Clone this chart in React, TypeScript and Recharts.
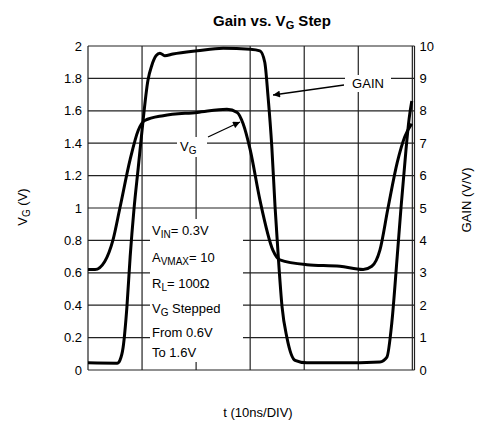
import React from 'react';
import {
    LineChart, Line, XAxis, YAxis, CartesianGrid, ReferenceLine
} from 'recharts';

// time in ns (10ns per division)
const vgTime = [0, 1.3, 3.1, 4.6, 5.9, 7.8, 9.3, 10.5, 13.9, 20.2, 25.7, 27.6, 28.7, 30.0, 31.8, 34.2, 35.5, 40.5, 46.6, 50.9, 52.5, 54.0, 55.5, 57.2, 58.6, 59.9];
const vgValues = [0.62, 0.62, 0.67, 0.80, 1.0, 1.30, 1.48, 1.54, 1.57, 1.59, 1.61, 1.59, 1.52, 1.36, 1.05, 0.74, 0.68, 0.65, 0.64, 0.62, 0.64, 0.74, 1.0, 1.28, 1.44, 1.52];

const gainTime = [0, 5.4, 5.9, 6.5, 7.2, 7.8, 8.5, 9.3, 10.0, 11.1, 11.8, 12.6, 13.3, 14.2, 15.7, 20.2, 25.0, 30.0, 31.8, 32.7, 33.3, 34.0, 34.6, 35.2, 35.9, 36.8, 38.3, 40.5, 46.6, 54.0, 55.3, 56.2, 57.2, 57.9, 58.8, 59.4, 59.9];
const gainValues = [0.22, 0.21, 0.3, 0.7, 1.95, 3.5, 4.95, 6.25, 7.4, 8.95, 9.4, 9.7, 9.78, 9.7, 9.75, 9.85, 9.93, 9.9, 9.85, 9.5, 8.45, 6.9, 5.05, 3.5, 1.95, 1.0, 0.3, 0.22, 0.22, 0.25, 0.4, 1.45, 3.5, 5.0, 6.75, 7.75, 8.3];

const xTicks = [0, 10, 20, 30, 40, 50, 60];
const frameEdge = 60.4;
const vgTicks = [0, 0.2, 0.4, 0.6, 0.8, 1, 1.2, 1.4, 1.6, 1.8, 2];
const gainTicks = [0, 1, 2, 3, 4, 5, 6, 7, 8, 9, 10];

const noteLines = [
    { main: 'V', sub: 'IN', rest: '= 0.3V' },
    { main: 'A', sub: 'VMAX', rest: '= 10' },
    { main: 'R', sub: 'L', rest: '= 100Ω' },
    { main: 'V', sub: 'G', rest: ' Stepped' },
    { main: 'From 0.6V', sub: '', rest: '' },
    { main: 'To 1.6V', sub: '', rest: '' },
];
const noteBaselines = [235, 262, 288, 313, 337, 357];

const FONT = '"Liberation Sans", Arial, Helvetica, sans-serif';
const GRID = '#222';

const vgData = vgTime.map((t, i) => ({ t, vg: vgValues[i] }));
const gainData = gainTime.map((t, i) => ({ t, gain: gainValues[i] }));

const Overlay = () => (
    <svg width={479} height={421} style={{ position: 'absolute', left: 0, top: 0, pointerEvents: 'none' }}
        fontFamily={FONT}>
        <defs>
            <marker id="arr" viewBox="0 0 10 10" refX="10" refY="5" markerWidth="9" markerHeight="7" orient="auto-start-reverse" markerUnits="userSpaceOnUse">
                <path d="M0,0 L10,5 L0,10 z" fill="#000" />
            </marker>
        </defs>
        <text x={272} y={26} textAnchor="middle" fontSize={15} fontWeight="bold">
            Gain vs. V<tspan fontSize={11} dy={3}>G</tspan><tspan dy={-3}> Step</tspan>
        </text>
        {/* GAIN annotation */}
        <rect x={345} y={75} width={46} height={17} fill="#fff" />
        <text x={368} y={88} textAnchor="middle" fontSize={13}>GAIN</text>
        <line x1={344} y1={85} x2={273} y2={95} stroke="#000" strokeWidth={1.3} markerEnd="url(#arr)" />
        {/* VG annotation */}
        <rect x={177} y={137} width={30} height={20} fill="#fff" />
        <text x={180} y={151} fontSize={13}>V<tspan fontSize={10} dy={3}>G</tspan></text>
        <line x1={208} y1={137} x2={240} y2={122} stroke="#000" strokeWidth={1.3} markerEnd="url(#arr)" />
        {/* conditions box */}
        <rect x={150} y={219} width={93} height={143} fill="#fff" />
        {noteLines.map((l, i) => (
            <text key={i} x={152} y={noteBaselines[i]} fontSize={13}>
                {l.main}
                {l.sub && <tspan fontSize={10} dy={3}>{l.sub}</tspan>}
                {l.rest && <tspan dy={l.sub ? -3 : 0}>{l.rest}</tspan>}
            </text>
        ))}
        {/* axis titles */}
        <text transform="translate(27,207) rotate(-90)" textAnchor="middle" fontSize={13}>
            V<tspan fontSize={10} dy={3}>G</tspan><tspan dy={-3}> (V)</tspan>
        </text>
        <text transform="translate(471,200) rotate(-90)" textAnchor="middle" fontSize={13}>GAIN (V/V)</text>
        <text x={258} y={417} textAnchor="middle" fontSize={13}>t (10ns/DIV)</text>
    </svg>
);

const NoTick = () => <g />;

export default function App() {
    return (
        <div style={{ position: 'absolute', left: 0, top: 0, width: 479, height: 421, background: '#fff' }}>
            <LineChart width={479} height={421} margin={{ top: 46, right: 24.5, bottom: 31, left: 38 }}>
                <CartesianGrid yAxisId="left" stroke={GRID} strokeWidth={1.2} vertical={false} />
                <XAxis xAxisId={0} dataKey="t" type="number" domain={[0, frameEdge]} ticks={xTicks} tick={NoTick}
                    axisLine={false} tickLine={false} height={20} />
                <YAxis yAxisId="left" domain={[0, 2]} ticks={vgTicks} width={50} axisLine={false}
                    tickLine={false} tickSize={0} tickMargin={6} interval={0}
                    tick={{ fill: '#000', fontSize: 13, fontFamily: FONT }} />
                <YAxis yAxisId="right" orientation="right" domain={[0, 10]} ticks={gainTicks} width={40}
                    axisLine={false} tickLine={false} tickSize={0} tickMargin={5} interval={0}
                    tick={{ fill: '#000', fontSize: 13, fontFamily: FONT, textAnchor: 'start' }} />
                {[...xTicks, frameEdge].map((x) => (
                    <ReferenceLine key={x} xAxisId={0} yAxisId="left" x={x} stroke={GRID} strokeWidth={1.2}
                        ifOverflow="visible" />
                ))}
                <Line yAxisId="left" data={vgData} dataKey="vg" type="monotone" stroke="#000"
                    strokeWidth={3} dot={false} isAnimationActive={false} />
                <Line yAxisId="right" data={gainData} dataKey="gain" type="monotone" stroke="#000"
                    strokeWidth={3} dot={false} isAnimationActive={false} />
            </LineChart>
            <Overlay />
        </div>
    );
}
